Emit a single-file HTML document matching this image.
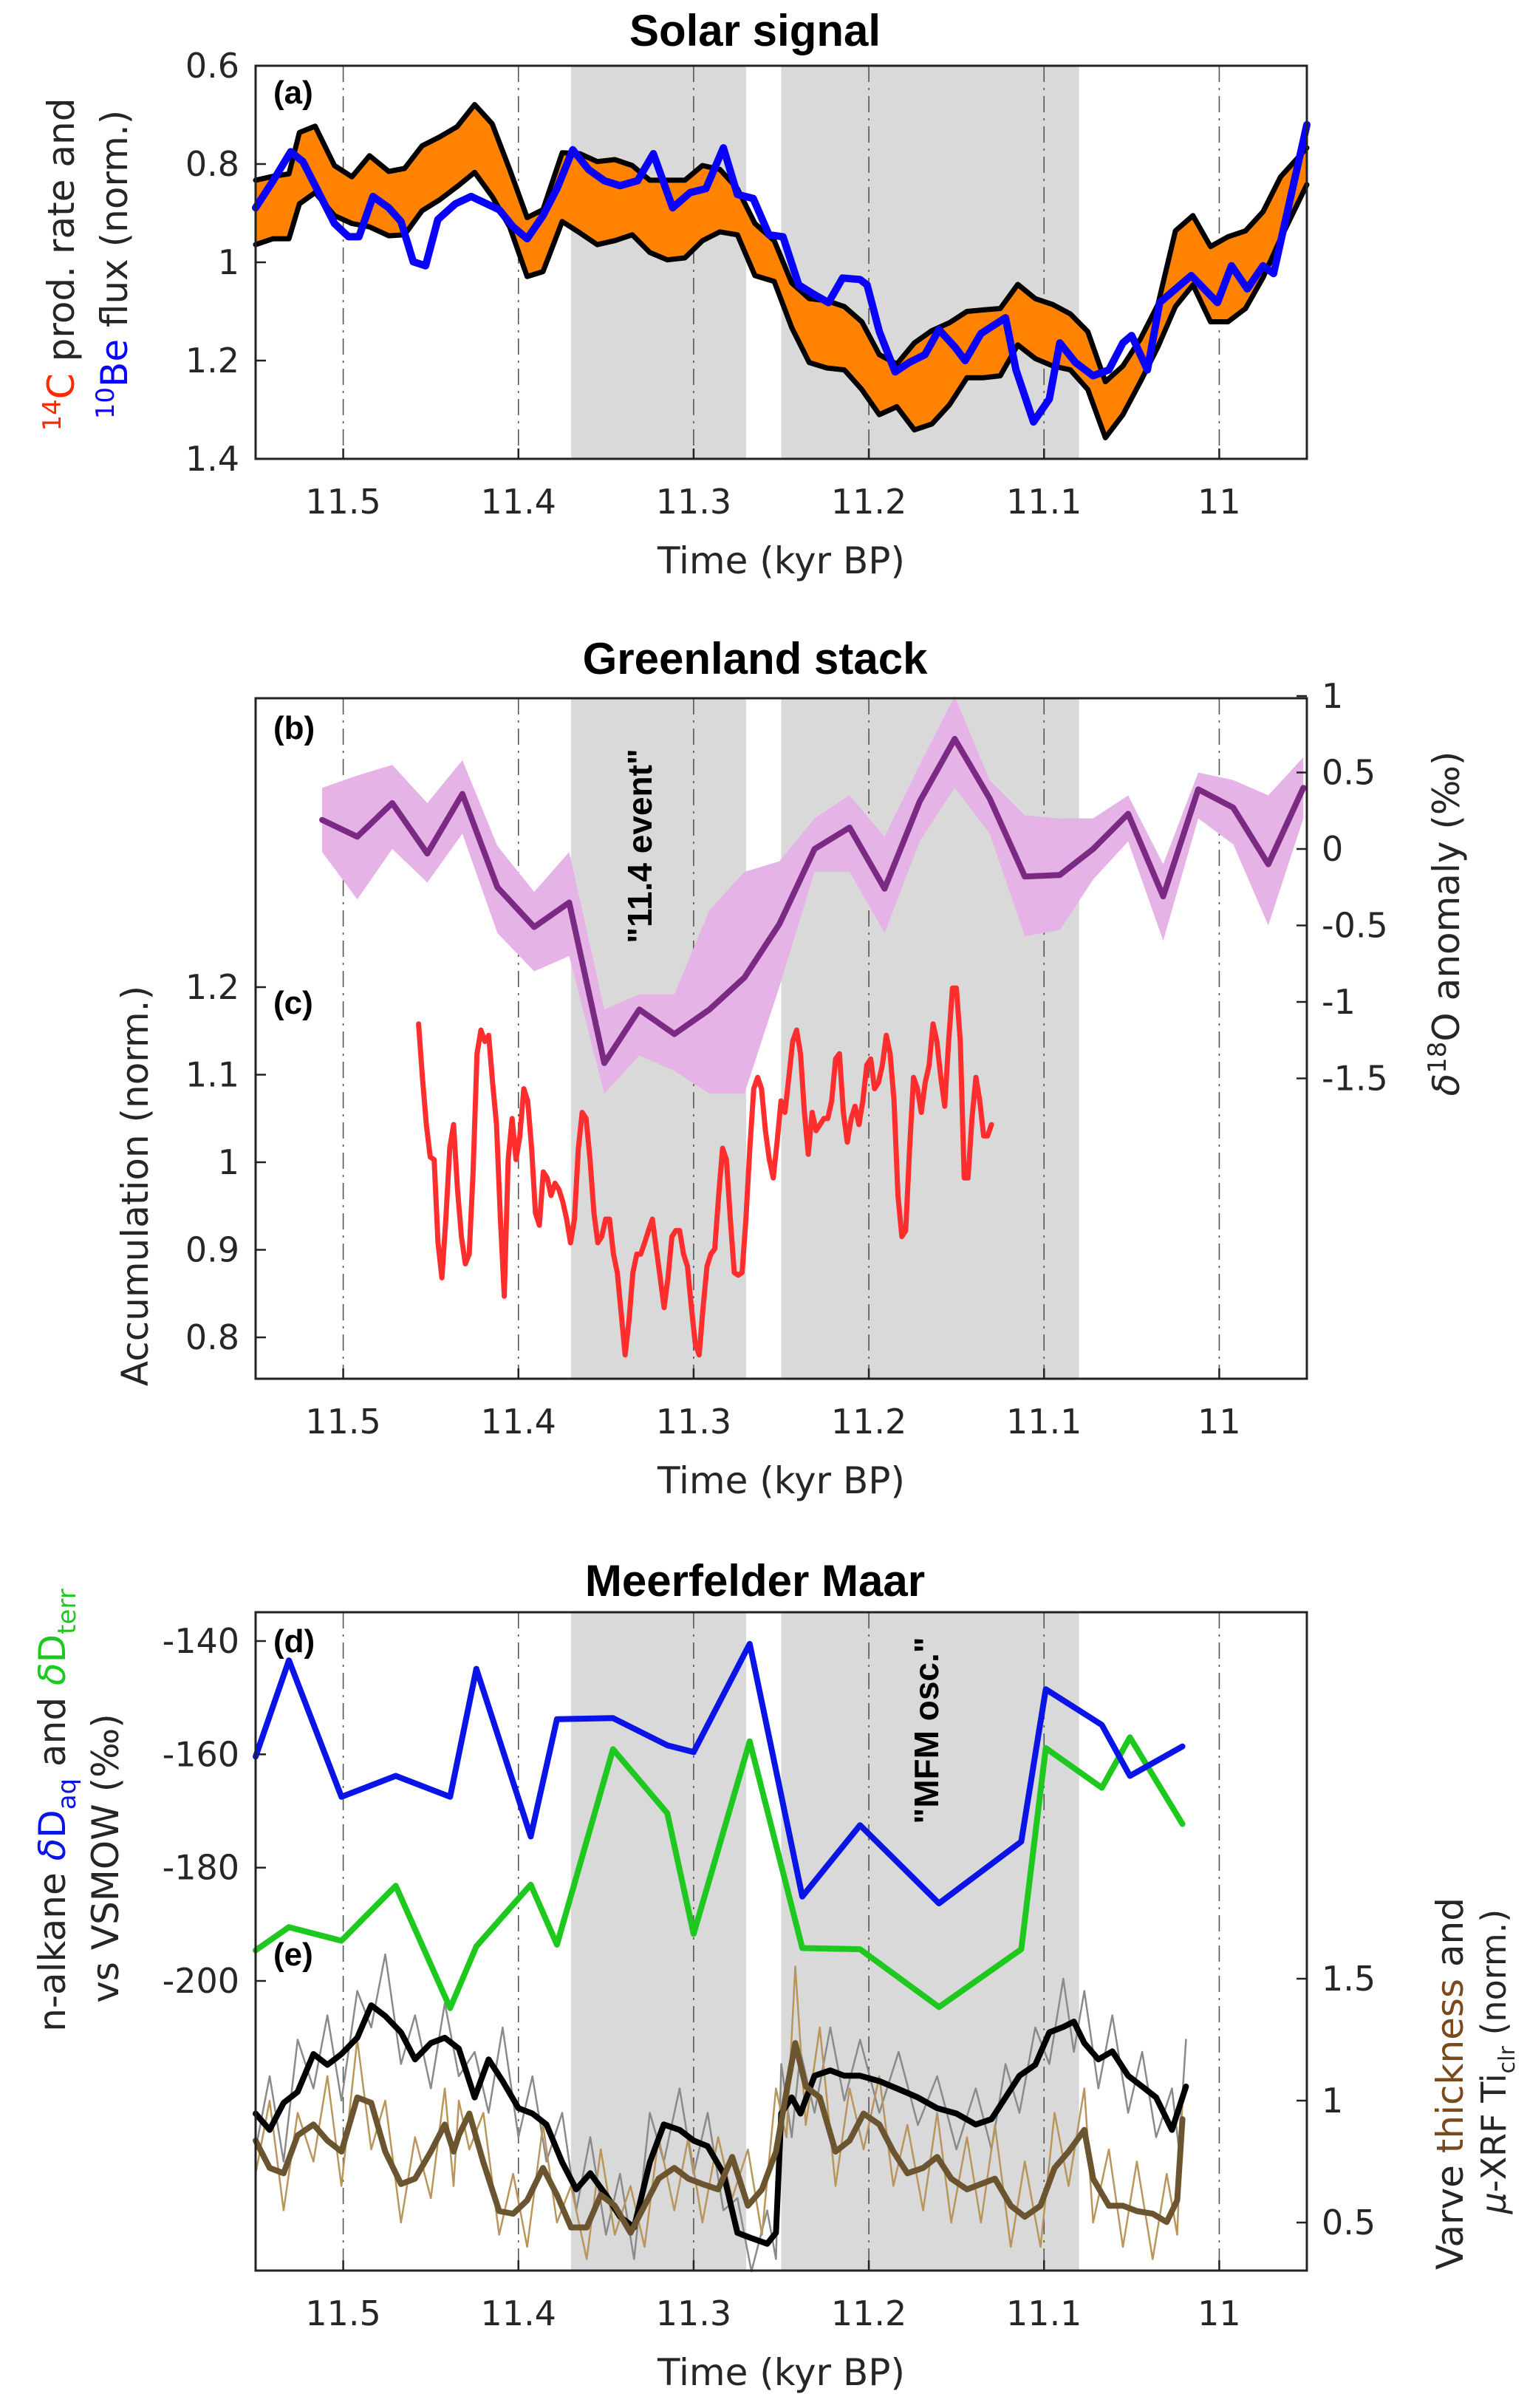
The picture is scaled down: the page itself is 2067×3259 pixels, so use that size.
<!DOCTYPE html>
<html><head><meta charset="utf-8"><style>
html,body{margin:0;padding:0;background:#fff;}
svg{display:block;font-family:"DejaVu Sans","Liberation Sans",sans-serif;}
</style></head><body>
<svg id="fig" xmlns="http://www.w3.org/2000/svg" width="2067" height="3259" viewBox="0 0 2067 3259">
<g id="g"></g>
</svg>
<script>
// ---------- Panel (a) data ----------
const aTimes=[11.550,11.540,11.531,11.525,11.516,11.505,11.495,11.485,11.474,11.465,11.455,11.445,11.435,11.425,11.415,11.405,11.395,11.386,11.375,11.365,11.355,11.345,11.335,11.325,11.315,11.305,11.295,11.285,11.275,11.265,11.254,11.244,11.234,11.224,11.214,11.204,11.194,11.184,11.174,11.164,11.154,11.144,11.135,11.125,11.115,11.105,11.095,11.085,11.075,11.065,11.055,11.045,11.035,11.025,11.015,11.005,10.995,10.985,10.975,10.965,10.950];
const c14Upper=[0.833,0.825,0.820,0.736,0.723,0.803,0.826,0.783,0.815,0.809,0.763,0.745,0.724,0.679,0.718,0.811,0.909,0.893,0.777,0.779,0.795,0.791,0.803,0.833,0.833,0.833,0.803,0.811,0.850,0.921,0.956,1.042,1.074,1.078,1.090,1.121,1.188,1.207,1.164,1.139,1.123,1.100,1.097,1.094,1.045,1.074,1.086,1.105,1.141,1.243,1.211,1.156,1.086,0.936,0.905,0.968,0.948,0.936,0.897,0.826,0.767];
const c14Lower=[0.964,0.952,0.952,0.881,0.858,0.905,0.921,0.928,0.946,0.944,0.895,0.873,0.846,0.817,0.866,0.928,1.029,1.019,0.917,0.940,0.964,0.956,0.944,0.980,0.995,0.991,0.956,0.938,0.944,1.027,1.039,1.133,1.204,1.215,1.219,1.259,1.310,1.294,1.341,1.329,1.290,1.235,1.235,1.231,1.168,1.196,1.211,1.219,1.259,1.357,1.310,1.243,1.172,1.090,1.046,1.121,1.121,1.094,1.031,0.952,0.842];
const beTimes=[11.550,11.540,11.530,11.523,11.514,11.505,11.497,11.491,11.483,11.474,11.467,11.460,11.453,11.446,11.436,11.427,11.411,11.403,11.395,11.386,11.378,11.369,11.360,11.351,11.342,11.332,11.323,11.312,11.302,11.293,11.283,11.275,11.266,11.257,11.249,11.240,11.231,11.223,11.215,11.205,11.201,11.194,11.185,11.177,11.168,11.160,11.151,11.145,11.136,11.122,11.116,11.106,11.097,11.091,11.082,11.072,11.063,11.055,11.050,11.041,11.034,11.016,11.001,10.993,10.984,10.975,10.969,10.950];
const beFlux=[0.889,0.834,0.775,0.795,0.858,0.921,0.948,0.948,0.866,0.889,0.917,0.999,1.007,0.913,0.881,0.866,0.893,0.928,0.952,0.905,0.850,0.771,0.811,0.834,0.844,0.834,0.779,0.889,0.858,0.850,0.767,0.862,0.870,0.944,0.948,1.046,1.066,1.082,1.032,1.035,1.046,1.141,1.223,1.204,1.188,1.137,1.172,1.200,1.145,1.113,1.219,1.325,1.278,1.164,1.204,1.231,1.219,1.164,1.149,1.219,1.082,1.027,1.082,1.007,1.054,1.007,1.023,0.720];
const aTicks=[0.6,0.8,1,1.2,1.4];
const xTicks=[11.5,11.4,11.3,11.2,11.1,11];
const shades=[[11.37,11.27],[11.25,11.08]];
// ---------- Panel (b) data ----------
const d18Times=[11.512,11.492,11.472,11.452,11.432,11.412,11.391,11.371,11.351,11.331,11.311,11.291,11.271,11.251,11.231,11.211,11.191,11.171,11.151,11.131,11.111,11.091,11.072,11.052,11.032,11.012,10.992,10.972,10.952];
const d18Mean=[0.19,0.08,0.30,-0.03,0.36,-0.25,-0.51,-0.35,-1.40,-1.05,-1.21,-1.05,-0.84,-0.49,0.0,0.14,-0.26,0.31,0.72,0.33,-0.18,-0.17,0.0,0.23,-0.31,0.39,0.27,-0.10,0.40];
const d18Upper=[0.40,0.48,0.55,0.30,0.58,0.02,-0.28,-0.02,-1.05,-0.95,-0.95,-0.40,-0.15,-0.08,0.20,0.35,0.08,0.55,1.00,0.45,0.22,0.20,0.20,0.35,-0.10,0.50,0.45,0.35,0.60];
const d18Lower=[-0.02,-0.33,0.0,-0.22,0.10,-0.55,-0.80,-0.70,-1.60,-1.35,-1.45,-1.60,-1.60,-0.90,-0.15,-0.15,-0.55,0.05,0.40,0.10,-0.57,-0.53,-0.20,0.05,-0.60,0.20,0.03,-0.50,0.20];
const bTicks=[1,0.5,0,-0.5,-1,-1.5];
// ---------- Panel (c) data ----------
const accStart=11.457, accEnd=11.130;
const accum=[1.158,1.097,1.043,1.006,1.003,0.908,0.868,0.935,1.016,1.043,0.969,0.915,0.884,0.895,0.989,1.124,1.151,1.138,1.145,1.091,1.043,0.935,0.847,1.003,1.050,1.003,1.030,1.084,1.070,1.016,0.942,0.928,0.989,0.982,0.962,0.976,0.969,0.955,0.935,0.908,0.935,1.016,1.057,1.050,1.003,0.942,0.908,0.915,0.935,0.935,0.895,0.874,0.827,0.780,0.820,0.874,0.895,0.895,0.908,0.922,0.935,0.901,0.868,0.834,0.868,0.915,0.922,0.922,0.895,0.881,0.834,0.793,0.780,0.834,0.881,0.895,0.901,0.962,1.016,1.003,0.935,0.874,0.871,0.874,0.935,1.016,1.084,1.097,1.084,1.036,1.003,0.982,1.023,1.070,1.057,1.097,1.138,1.151,1.124,1.057,1.009,1.057,1.036,1.043,1.050,1.050,1.070,1.118,1.124,1.057,1.023,1.050,1.064,1.043,1.070,1.111,1.118,1.084,1.091,1.111,1.145,1.124,1.070,0.962,0.915,0.922,1.016,1.097,1.084,1.057,1.091,1.111,1.158,1.138,1.097,1.064,1.138,1.199,1.199,1.138,0.982,0.982,1.050,1.097,1.070,1.030,1.030,1.043];
const cTicks=[1.2,1.1,1,0.9,0.8];
// ---------- Panel (d) data ----------
const dTimes=[11.550,11.531,11.501,11.470,11.439,11.424,11.393,11.378,11.346,11.315,11.300,11.268,11.238,11.205,11.160,11.113,11.099,11.067,11.051,11.021];
const dDaq=[-160.4,-143.4,-167.5,-163.8,-167.5,-144.9,-174.5,-153.8,-153.6,-158.4,-159.6,-140.5,-185.1,-172.5,-186.3,-175.4,-148.5,-154.8,-163.8,-158.6];
const dDterr=[-194.6,-190.5,-192.9,-183.2,-204.8,-193.9,-183.0,-193.6,-159.1,-170.4,-191.7,-157.7,-194.2,-194.4,-204.6,-194.4,-158.9,-165.9,-157.0,-172.3];
const dTicks=[-140,-160,-180,-200];
// ---------- Panel (e) data ----------
const tiTimes=[11.550,11.542,11.534,11.526,11.517,11.509,11.501,11.492,11.484,11.476,11.467,11.459,11.450,11.442,11.434,11.425,11.417,11.409,11.400,11.392,11.384,11.375,11.367,11.359,11.350,11.342,11.334,11.325,11.317,11.308,11.300,11.292,11.283,11.275,11.267,11.258,11.253,11.250,11.244,11.239,11.231,11.222,11.214,11.205,11.194,11.183,11.172,11.161,11.150,11.139,11.130,11.122,11.114,11.105,11.097,11.089,11.083,11.077,11.069,11.061,11.052,11.044,11.036,11.027,11.023,11.019];
const tiSmooth=[0.947,0.880,0.991,1.036,1.191,1.147,1.191,1.258,1.391,1.347,1.280,1.169,1.236,1.258,1.213,1.013,1.169,1.080,0.969,0.947,0.902,0.747,0.636,0.702,0.613,0.524,0.480,0.747,0.902,0.880,0.836,0.813,0.702,0.458,0.436,0.413,0.458,0.947,1.013,0.947,1.102,1.124,1.102,1.102,1.080,1.047,1.013,0.969,0.947,0.902,0.924,1.013,1.102,1.147,1.280,1.302,1.324,1.236,1.169,1.202,1.102,1.058,1.013,0.880,0.969,1.058];
const tiRaw=[0.80,1.10,0.75,1.25,1.05,1.35,1.00,1.45,1.30,1.60,1.15,1.35,1.05,1.40,1.10,1.20,0.95,1.30,0.85,1.10,0.75,0.95,0.55,0.85,0.45,0.70,0.35,0.95,0.75,1.05,0.70,0.95,0.55,0.60,0.30,0.55,0.35,1.15,0.85,1.20,0.95,1.30,1.00,1.25,0.95,1.20,0.90,1.10,0.80,1.05,0.80,1.15,0.95,1.30,1.15,1.50,1.20,1.45,1.05,1.35,0.95,1.20,0.85,1.05,0.80,1.25];
const vtTimes=[11.550,11.542,11.534,11.526,11.517,11.509,11.501,11.492,11.484,11.476,11.467,11.459,11.450,11.442,11.437,11.434,11.428,11.420,11.411,11.403,11.395,11.386,11.378,11.370,11.361,11.353,11.345,11.336,11.328,11.320,11.311,11.303,11.295,11.286,11.278,11.269,11.261,11.253,11.247,11.242,11.236,11.228,11.219,11.211,11.203,11.194,11.186,11.178,11.169,11.161,11.153,11.144,11.136,11.128,11.119,11.111,11.102,11.094,11.086,11.077,11.072,11.063,11.055,11.047,11.038,11.030,11.024,11.021];
const vtSmooth=[0.836,0.724,0.702,0.858,0.902,0.836,0.791,1.013,0.991,0.791,0.658,0.680,0.791,0.902,0.791,0.858,0.947,0.747,0.547,0.536,0.591,0.724,0.613,0.480,0.480,0.613,0.569,0.458,0.569,0.680,0.724,0.680,0.658,0.636,0.769,0.569,0.636,0.791,1.036,1.236,1.058,1.013,0.791,0.836,0.947,0.902,0.791,0.702,0.724,0.769,0.680,0.636,0.658,0.680,0.569,0.524,0.569,0.724,0.791,0.880,0.680,0.569,0.569,0.547,0.536,0.502,0.591,0.924];
const vtRaw=[0.70,1.00,0.55,0.95,0.75,1.10,0.65,1.25,0.80,1.00,0.50,0.85,0.60,1.05,0.65,1.00,0.80,0.95,0.45,0.70,0.40,0.90,0.50,0.65,0.35,0.80,0.45,0.65,0.40,0.85,0.55,0.85,0.50,0.85,0.60,0.80,0.45,1.05,0.85,1.55,0.90,1.30,0.65,1.05,0.80,1.10,0.65,0.90,0.55,0.95,0.50,0.85,0.50,0.90,0.40,0.75,0.40,0.95,0.65,1.05,0.50,0.80,0.40,0.75,0.35,0.70,0.45,1.00];
const eTicks=[1.5,1,0.5];

// ---------- helpers ----------
const NS="http://www.w3.org/2000/svg";
const root=document.getElementById('g');
const L=346,R=1769;
function X(t){return L+(11.55-t)/0.6*(R-L);}
function mk(tag,attrs,parent,text){const e=document.createElementNS(NS,tag);for(const k in attrs)e.setAttribute(k,attrs[k]);if(text!==undefined)e.textContent=text;(parent||root).appendChild(e);return e;}
function pathOf(ts,vs,yf){return ts.map((t,i)=>(i?'L':'M')+X(t).toFixed(1)+','+yf(vs[i]).toFixed(1)).join('');}
function bandOf(ts,up,lo,yf){let d=ts.map((t,i)=>(i?'L':'M')+X(t).toFixed(1)+','+yf(up[i]).toFixed(1)).join('');for(let i=ts.length-1;i>=0;i--)d+='L'+X(ts[i]).toFixed(1)+','+yf(lo[i]).toFixed(1);return d+'Z';}
function panelBase(top,bot,name){
  const g=mk('g',{});
  
  
  shades.forEach((s,i)=>{const r=mk('rect',{x:X(s[0]),y:top,width:X(s[1])-X(s[0]),height:bot-top,fill:'#d9d9d9'},g);
    
    });
  xTicks.forEach(t=>{const l=mk('line',{x1:X(t),x2:X(t),y1:top,y2:bot,stroke:'#555','stroke-width':1.6,'stroke-dasharray':'22,8,3,8'},g);
    
    });
  return g;
}
function frame(top,bot,g,leftTicks,rightTicks){
  const b=mk('rect',{x:L,y:top,width:R-L,height:bot-top,fill:'none',stroke:'#222','stroke-width':3},g);
  
  
  xTicks.forEach(t=>{mk('line',{x1:X(t),x2:X(t),y1:bot,y2:bot-14,stroke:'#222','stroke-width':2.5},g);
    const tx=mk('text',{x:X(t),y:bot+74,'text-anchor':'middle','font-size':46,fill:'#262626'},g,String(t));
    
    });
  const xl=mk('text',{x:(L+R)/2,y:bot+155,'text-anchor':'middle','font-size':50,fill:'#262626'},g,'Time (kyr BP)');
  
  
  if(leftTicks)leftTicks.forEach(([v,y])=>{mk('line',{x1:L,x2:L+14,y1:y,y2:y,stroke:'#222','stroke-width':2.5},g);
    const tx=mk('text',{x:L-22,y:y+16,'text-anchor':'end','font-size':46,fill:'#262626'},g,String(v));
    
    });
  if(rightTicks)rightTicks.forEach(([v,y])=>{mk('line',{x1:R,x2:R-14,y1:y,y2:y,stroke:'#222','stroke-width':2.5},g);
    const tx=mk('text',{x:R+20,y:y+16,'text-anchor':'start','font-size':46,fill:'#262626'},g,String(v));
    
    });
}
function title(txt,y,name){const t=mk('text',{x:1022,y:y,'text-anchor':'middle','font-size':60,'font-weight':'bold',fill:'#000','font-family':'Liberation Sans, sans-serif'},root,txt);
  
  }
function plabel(txt,x,y){const t=mk('text',{x:x,y:y,'font-size':44,'font-weight':'bold',fill:'#000','font-family':'Liberation Sans, sans-serif'},root,txt);
  
  }
function line(d,color,w,name,g){const p=mk('path',{d:d,fill:'none',stroke:color,'stroke-width':w,'stroke-linejoin':'round','stroke-linecap':'round'},g);
  
  return p;}

// ---------- Panel (a) ----------
(function(){
  const top=89,bot=621;
  const Y=v=>top+(v-0.6)/0.8*(bot-top);
  title('Solar signal',62,'title-solar-signal');
  const g=panelBase(top,bot,'panel-a');
  const band=mk('path',{d:bandOf(aTimes,c14Upper,c14Lower,Y),fill:'#ff8200',stroke:'none'},g);
  
  
  line(pathOf(aTimes,c14Upper,Y),'#000',7,'c14-upper-line',g);
  line(pathOf(aTimes,c14Lower,Y),'#000',7,'c14-lower-line',g);
  line(pathOf(beTimes,beFlux,Y),'#0a00ff',10,'be10-flux-line',g);
  frame(top,bot,g,aTicks.map(v=>[v,Y(v)]),null);
  plabel('(a)',370,140);
  const y1=mk('text',{transform:'translate(100,358) rotate(-90)','text-anchor':'middle','font-size':50,fill:'#262626'});
  
  
  mk('tspan',{fill:'#ff2a00','font-size':34,dy:-18},y1,'14');
  mk('tspan',{fill:'#ff2a00',dy:18},y1,'C');
  mk('tspan',{},y1,' prod. rate and');
  const y2=mk('text',{transform:'translate(172,358) rotate(-90)','text-anchor':'middle','font-size':50,fill:'#262626'});
  
  
  mk('tspan',{fill:'#0a00ff','font-size':34,dy:-18},y2,'10');
  mk('tspan',{fill:'#0a00ff',dy:18},y2,'Be');
  mk('tspan',{},y2,' flux (norm.)');
})();

// ---------- Panels (b)+(c) ----------
(function(){
  const top=945,bot=1866;
  const YR=v=>1149-v*207;
  const YL=v=>1336+(1.2-v)*1185;
  title('Greenland stack',912,'title-greenland-stack');
  const g=panelBase(top,bot,'panel-b-c');
  const band=mk('path',{d:bandOf(d18Times,d18Upper,d18Lower,YR),fill:'#e6b3e6',stroke:'none'},g);
  
  
  line(pathOf(d18Times,d18Mean,YR),'#7a2a82',8,'d18o-line',g);
  const n=accum.length;
  const accTimes=accum.map((v,i)=>accStart+(accEnd-accStart)*i/(n-1));
  line(pathOf(accTimes,accum,YL),'#ff2e2e',7,'accumulation-line',g);
  frame(top,bot,g,cTicks.map(v=>[v,YL(v)]),bTicks.map(v=>[v,YR(v)]));
  plabel('(b)',370,1000);
  plabel('(c)',370,1372);
  const ev=mk('text',{transform:'translate(882,1145) rotate(-90)','text-anchor':'middle','font-size':46,'font-weight':'bold',fill:'#000','font-family':'Liberation Sans, sans-serif'},root,'"11.4 event"');
  
  
  const yl=mk('text',{transform:'translate(200,1605) rotate(-90)','text-anchor':'middle','font-size':50,fill:'#262626'},root,'Accumulation (norm.)');
  
  
  const yr=mk('text',{transform:'translate(1975,1250) rotate(-90)','text-anchor':'middle','font-size':50,fill:'#262626'});
  
  
  mk('tspan',{'font-style':'italic'},yr,'δ');
  mk('tspan',{'font-size':34,dy:-18},yr,'18');
  mk('tspan',{dy:18},yr,'O anomaly (‰)');
})();

// ---------- Panels (d)+(e) ----------
(function(){
  const top=2182,bot=3073;
  const YD=v=>2221+(-140-v)/60*460;
  const YE=v=>2843-(v-1)*330;
  title('Meerfelder Maar',2160,'title-meerfelder-maar');
  const g=panelBase(top,bot,'panel-d-e');
  line(pathOf(tiTimes,tiRaw,YE),'#8a8a8a',2.5,'ti-raw-line',g);
  line(pathOf(vtTimes,vtRaw,YE),'#b8955a',2.5,'varve-raw-line',g);
  line(pathOf(tiTimes,tiSmooth,YE),'#000',8,'ti-smooth-line',g);
  line(pathOf(vtTimes,vtSmooth,YE),'#6b5530',8,'varve-smooth-line',g);
  line(pathOf(dTimes,dDterr,YD),'#1ec81e',8,'dD-terr-line',g);
  line(pathOf(dTimes,dDaq,YD),'#0a14e6',8,'dD-aq-line',g);
  frame(top,bot,g,dTicks.map(v=>[v,YD(v)]),eTicks.map(v=>[v,YE(v)]));
  plabel('(d)',370,2236);
  plabel('(e)',370,2660);
  const ev=mk('text',{transform:'translate(1270,2342) rotate(-90)','text-anchor':'middle','font-size':46,'font-weight':'bold',fill:'#000','font-family':'Liberation Sans, sans-serif'},root,'"MFM osc."');
  
  
  const y1=mk('text',{transform:'translate(88,2450) rotate(-90)','text-anchor':'middle','font-size':50,fill:'#262626'});
  
  
  mk('tspan',{},y1,'n-alkane ');
  mk('tspan',{fill:'#0a14e6','font-style':'italic'},y1,'δ');
  mk('tspan',{fill:'#0a14e6'},y1,'D');
  mk('tspan',{fill:'#0a14e6','font-size':34,dy:14},y1,'aq');
  mk('tspan',{dy:-14},y1,' and ');
  mk('tspan',{fill:'#1ec81e','font-style':'italic'},y1,'δ');
  mk('tspan',{fill:'#1ec81e'},y1,'D');
  mk('tspan',{fill:'#1ec81e','font-size':34,dy:14},y1,'terr');
  const y2=mk('text',{transform:'translate(160,2515) rotate(-90)','text-anchor':'middle','font-size':50,fill:'#262626'},root,'vs VSMOW (‰)');
  
  
  const r1=mk('text',{transform:'translate(1980,2820) rotate(-90)','text-anchor':'middle','font-size':50,fill:'#262626'});
  
  
  mk('tspan',{},r1,'Varve ');
  mk('tspan',{fill:'#7a4a1a'},r1,'thickness');
  mk('tspan',{},r1,' and');
  const r2=mk('text',{transform:'translate(2038,2790) rotate(-90)','text-anchor':'middle','font-size':46,fill:'#262626'});
  
  
  mk('tspan',{'font-style':'italic'},r2,'μ');
  mk('tspan',{},r2,'-XRF Ti');
  mk('tspan',{'font-size':30,dy:12},r2,'clr');
  mk('tspan',{dy:-12},r2,' (norm.)');
})();
</script>
</body></html>
